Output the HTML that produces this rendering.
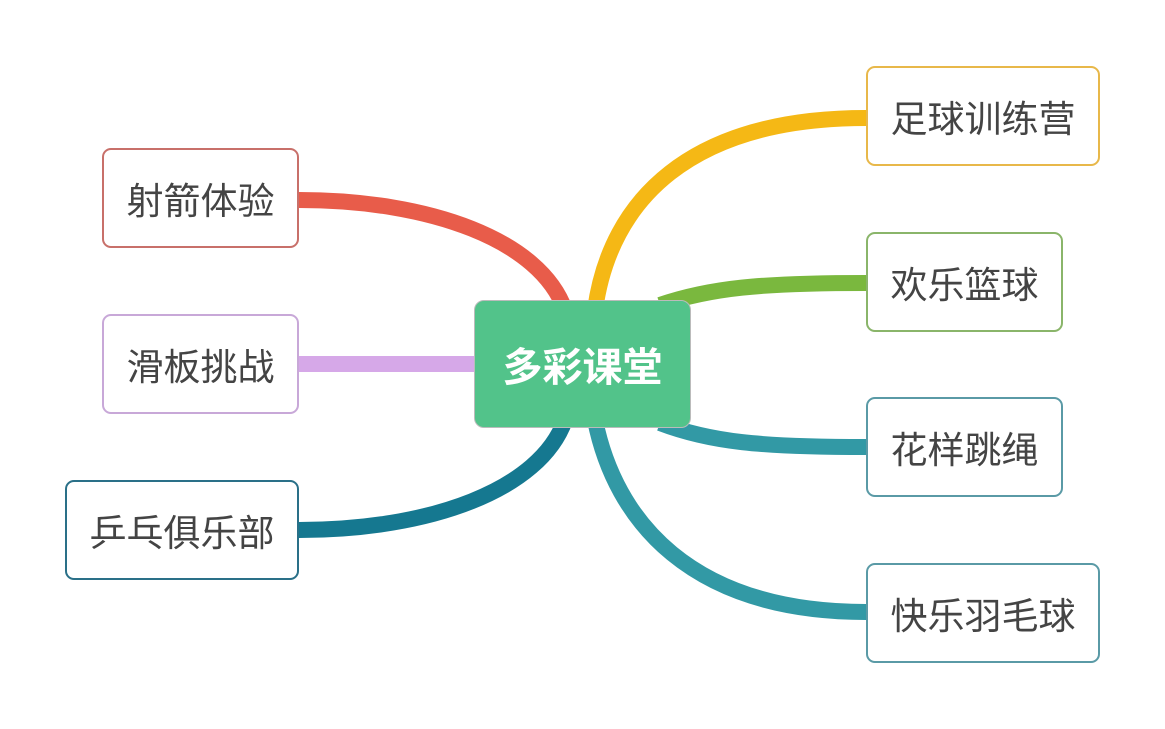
<!DOCTYPE html>
<html><head><meta charset="utf-8"><style>
body{margin:0;width:1165px;height:729px;background:#fff;overflow:hidden;position:relative;font-family:"Liberation Sans","Noto Sans CJK SC",sans-serif}
.n{position:absolute;box-sizing:border-box;border:2px solid;border-radius:9px;background:#fff;display:flex;align-items:center;justify-content:center;font-size:37px;color:#444;height:100px}
.c{position:absolute;left:474px;top:300px;width:217px;height:128px;background:#52c38a;border-radius:10px;border:1px solid #bbb;box-sizing:border-box;display:flex;align-items:center;justify-content:center;color:#fff;font-size:40px;font-weight:bold}
</style></head><body>
<svg width="1165" height="729" style="position:absolute;left:0;top:0" fill="none" stroke-width="16">
<path d="M299,200 C430,200 540,240 565,310" stroke="#e85c4a"/>
<path d="M866,118 C690,118 610,200 595,310" stroke="#f5b815"/>
<path d="M866,283 C760,283 710,288 660,305" stroke="#7ab83e"/>
<path d="M866,447 C760,447 710,442 660,423" stroke="#3299a5"/>
<path d="M866,612 C690,612 615,520 595,420" stroke="#3299a5"/>
<path d="M299,530 C430,530 540,490 565,420" stroke="#157890"/>
<path d="M299,364 L480,364" stroke="#d6a8e8"/>
</svg>
<div class="c">多彩课堂</div>
<div class="n" style="left:866px;top:66px;width:234px;border-color:#e8b84a">足球训练营</div>
<div class="n" style="left:866px;top:232px;width:197px;border-color:#8ab56a">欢乐篮球</div>
<div class="n" style="left:866px;top:397px;width:197px;border-color:#5a9aa6">花样跳绳</div>
<div class="n" style="left:866px;top:563px;width:234px;border-color:#5a9aa6">快乐羽毛球</div>
<div class="n" style="left:102px;top:148px;width:197px;border-color:#c8706a">射箭体验</div>
<div class="n" style="left:102px;top:314px;width:197px;border-color:#c8a8d8">滑板挑战</div>
<div class="n" style="left:65px;top:480px;width:234px;border-color:#2a7088">乒乓俱乐部</div>
</body></html>
